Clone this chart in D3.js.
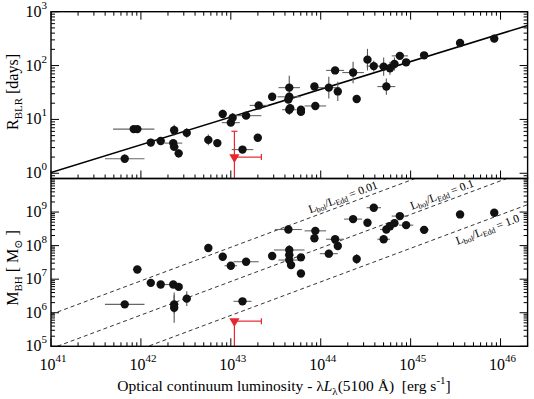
<!DOCTYPE html>
<html>
<head>
<meta charset="utf-8">
<script src="https://cdn.jsdelivr.net/npm/d3@7"></script>
<style>
  body { margin: 0; background: #fff; }
  svg { display: block; }
  text { font-family: "Liberation Serif", "DejaVu Serif", serif; }
</style>
</head>
<body>
<svg id="chart"></svg>
<script>
// log10 of luminosity / radius, with symmetric errors in dex
const rblrLogL = [41.82, 41.92, 41.96, 42.11, 42.22, 42.36, 42.37, 42.37, 42.42, 42.51, 42.75, 42.85, 42.91, 43.00, 43.02,
    43.13, 43.17, 43.30, 43.31, 43.46, 43.65, 43.65, 43.64, 43.66, 43.65, 43.78, 43.78, 43.93, 43.94, 44.09,
    44.19, 44.16, 44.36, 44.40, 44.52, 44.59, 44.70, 44.73, 44.77, 44.82, 44.88, 44.95, 45.15, 45.55, 45.93];
const rblrLogR = [0.27, 0.82, 0.82, 0.57, 0.60, 0.56, 0.80, 0.49, 0.37, 0.75, 0.62, 0.56, 1.10, 0.94, 1.03,
    0.44, 1.07, 0.66, 1.26, 1.42, 1.59, 1.42, 1.37, 1.21, 1.18, 1.18, 1.14, 1.61, 1.25, 1.59,
    1.52, 1.91, 1.87, 1.38, 2.11, 1.99, 1.98, 1.61, 1.95, 2.03, 2.18, 2.06, 2.19, 2.42, 2.50];
const rblrLumErr = [0.22, 0.23, 0.05, 0.03, 0.05, 0.10, 0.03, 0.05, 0.03, 0.03, 0.03, 0.03, 0.04, 0.10, 0.03,
    0.12, 0.17, 0.04, 0.10, 0.04, 0.12, 0.13, 0.05, 0.05, 0.08, 0.04, 0.04, 0.04, 0.12, 0.12,
    0.04, 0.10, 0.12, 0.03, 0.03, 0.08, 0.05, 0.10, 0.06, 0.05, 0.09, 0.04, 0.03, 0.03, 0.03];
const rblrRErr = [0.08, 0.03, 0.03, 0.07, 0.04, 0.05, 0.10, 0.05, 0.08, 0.09, 0.10, 0.07, 0.08, 0.04, 0.09,
    0.05, 0.03, 0.05, 0.04, 0.04, 0.22, 0.05, 0.05, 0.05, 0.10, 0.06, 0.05, 0.04, 0.04, 0.20,
    0.18, 0.03, 0.20, 0.06, 0.20, 0.10, 0.17, 0.15, 0.12, 0.12, 0.03, 0.06, 0.03, 0.04, 0.07];

const mbhLogL = [41.82, 41.96, 42.11, 42.22, 42.36, 42.42, 42.37, 42.37, 42.51, 42.75, 42.91, 43.00, 43.17, 43.13, 43.46,
    43.64, 43.65, 43.65, 43.65, 43.67, 43.78, 43.78, 43.94, 43.93, 44.09, 44.16, 44.19, 44.36, 44.40, 44.52,
    44.59, 44.70, 44.73, 44.77, 44.82, 44.88, 44.95, 45.15, 45.55, 45.93];
const mbhLogM = [6.25, 7.29, 6.89, 6.84, 6.84, 6.77, 6.25, 6.15, 6.42, 7.93, 7.67, 7.40, 7.52, 6.34, 7.69,
    8.48, 7.87, 7.72, 7.57, 7.42, 7.65, 7.17, 8.44, 8.22, 7.76, 8.19, 7.99, 8.79, 7.60, 8.68,
    9.13, 8.19, 8.48, 8.58, 8.67, 8.88, 8.61, 8.47, 8.93, 8.98];
const mbhLumErr = [0.22, 0.05, 0.03, 0.03, 0.10, 0.03, 0.03, 0.03, 0.03, 0.04, 0.04, 0.07, 0.14, 0.10, 0.04,
    0.15, 0.17, 0.05, 0.12, 0.04, 0.04, 0.03, 0.12, 0.03, 0.10, 0.10, 0.03, 0.10, 0.03, 0.03,
    0.08, 0.07, 0.07, 0.05, 0.04, 0.09, 0.08, 0.05, 0.03, 0.03];
const mbhMassErr = [0.07, 0.05, 0.05, 0.04, 0.04, 0.06, 0.27, 0.45, 0.22, 0.12, 0.12, 0.04, 0.04, 0.08, 0.04,
    0.04, 0.15, 0.05, 0.05, 0.12, 0.04, 0.04, 0.04, 0.04, 0.12, 0.04, 0.12, 0.04, 0.15, 0.07,
    0.04, 0.08, 0.04, 0.04, 0.04, 0.04, 0.03, 0.03, 0.03, 0.04];

// upper limit object (red)
const limitLogL = 43.04;
const limitLumHi = 43.34;
const limitLogR = 0.30;
const limitRHi = 0.78;
const limitLogM = 5.75;

// R-L fit: log R = fitIntercept + fitSlope * log L
const fitSlope = 0.515;
const fitIntercept = -21.10;

// Eddington ratio lines: log M = log L + offset
const eddRatios = ['0.01', '0.1', '1.0'];
const eddOffsets = [-35.05, -36.07, -37.08];
const eddLabelLogL = [43.90, 45.03, 45.47];

const xExps = [41, 42, 43, 44, 45, 46];
const rExps = [0, 1, 2, 3];
const mExps = [5, 6, 7, 8, 9];

const W = 534, H = 399;
const svg = d3.select('#chart').attr('width', W).attr('height', H)
    .attr('font-family', '"Liberation Serif", "DejaVu Serif", serif');

const x = d3.scaleLog().domain([1e41, 2e46]).range([51, 527.6]);
const yR = d3.scaleLog().domain([0.8, 1000]).range([178.5, 11.7]);
const yM = d3.scaleLog().domain([1e5, 1e10]).range([346.3, 178.5]);
const p10 = v => Math.pow(10, v);

const xLeft = x.range()[0], xRight = x.range()[1];
const red = '#e8262d';

function isDecade(v) {
    const e = Math.log10(v);
    return Math.abs(e - Math.round(e)) < 1e-6;
}

// inward ticks on the given sides of a panel
function drawTicks(yScale, sides) {
    const top = yScale.range()[1], bottom = yScale.range()[0];
    const xMajor = xExps.map(p10);
    const xMinor = x.ticks().filter(v => !isDecade(v));
    const yMajor = yScale.ticks().filter(isDecade);
    const yMinor = yScale.ticks().filter(v => !isDecade(v));
    const g = svg.append('g').attr('stroke', '#000').attr('stroke-width', 1);

    const tickSet = (vals, len, side) => {
        vals.forEach(v => {
            if (side === 'top' || side === 'bottom') {
                const px = x(v);
                const py = side === 'top' ? top : bottom;
                const dir = side === 'top' ? 1 : -1;
                g.append('line').attr('x1', px).attr('x2', px).attr('y1', py).attr('y2', py + dir * len);
            } else {
                const py = yScale(v);
                const px = side === 'left' ? xLeft : xRight;
                const dir = side === 'left' ? 1 : -1;
                g.append('line').attr('x1', px).attr('x2', px + dir * len).attr('y1', py).attr('y2', py);
            }
        });
    };
    sides.forEach(s => {
        if (s === 'top' || s === 'bottom') {
            tickSet(xMajor, 8, s);
            tickSet(xMinor, 4, s);
        } else {
            tickSet(yMajor, 8, s);
            tickSet(yMinor, 4, s);
        }
    });

    svg.append('rect')
        .attr('x', xLeft).attr('y', top)
        .attr('width', xRight - xLeft).attr('height', bottom - top)
        .attr('fill', 'none').attr('stroke', '#000').attr('stroke-width', 1.4);
}

function powLabel(sel, exp) {
    sel.append('tspan').text('10');
    sel.append('tspan').attr('font-size', 11).attr('dy', -8).text(exp);
}

function drawYLabels(yScale, exps) {
    exps.forEach(e => {
        svg.append('text')
            .attr('x', 47).attr('y', yScale(p10(e)) + 5)
            .attr('text-anchor', 'end').attr('font-size', 16)
            .call(powLabel, e);
    });
}

function drawPoints(yScale, lum, val, lumErr, valErr) {
    const pts = lum.map((l, i) => ({ l, v: val[i], le: lumErr[i], ve: valErr[i] }));
    const g = svg.append('g');
    g.selectAll('.xerr').data(pts).enter().append('line')
        .attr('class', 'xerr')
        .attr('x1', d => x(p10(d.l - d.le))).attr('x2', d => x(p10(d.l + d.le)))
        .attr('y1', d => yScale(p10(d.v))).attr('y2', d => yScale(p10(d.v)))
        .attr('stroke', '#666').attr('stroke-width', 1.1);
    g.selectAll('.yerr').data(pts).enter().append('line')
        .attr('class', 'yerr')
        .attr('x1', d => x(p10(d.l))).attr('x2', d => x(p10(d.l)))
        .attr('y1', d => yScale(p10(d.v - d.ve))).attr('y2', d => yScale(p10(d.v + d.ve)))
        .attr('stroke', '#555').attr('stroke-width', 1.1);
    g.selectAll('circle').data(pts).enter().append('circle')
        .attr('cx', d => x(p10(d.l))).attr('cy', d => yScale(p10(d.v)))
        .attr('r', 4.2).attr('fill', '#111');
}

function drawLimit(yScale, logV, logVHi) {
    const g = svg.append('g').attr('stroke', red).attr('stroke-width', 1.2);
    const px = x(p10(limitLogL)), py = yScale(p10(logV));
    const pxHi = x(p10(limitLumHi));
    g.append('line').attr('x1', px).attr('x2', pxHi).attr('y1', py).attr('y2', py);
    g.append('line').attr('x1', pxHi).attr('x2', pxHi).attr('y1', py - 3).attr('y2', py + 3);
    const yTop = logVHi != null ? yScale(p10(logVHi)) : py;
    g.append('line').attr('x1', px).attr('x2', px).attr('y1', yTop).attr('y2', yScale.range()[0]);
    if (logVHi != null) {
        g.append('line').attr('x1', px - 3).attr('x2', px + 3).attr('y1', yTop).attr('y2', yTop);
    }
    svg.append('path')
        .attr('d', d3.symbol(d3.symbolTriangle, 45)())
        .attr('transform', `translate(${px},${py}) rotate(180)`)
        .attr('fill', red);
}

// clip paths
const defs = svg.append('defs');
defs.append('clipPath').attr('id', 'clipTop').append('rect')
    .attr('x', xLeft).attr('y', yR.range()[1]).attr('width', xRight - xLeft).attr('height', yR.range()[0] - yR.range()[1]);
defs.append('clipPath').attr('id', 'clipBot').append('rect')
    .attr('x', xLeft).attr('y', yM.range()[1]).attr('width', xRight - xLeft).attr('height', yM.range()[0] - yM.range()[1]);

// ---- top panel: R_BLR ----
const fitLine = d3.line()
    .x(d => x(p10(d)))
    .y(d => yR(p10(fitIntercept + fitSlope * d)));
svg.append('path')
    .datum([41, 46.301])
    .attr('d', fitLine)
    .attr('clip-path', 'url(#clipTop)')
    .attr('fill', 'none').attr('stroke', '#000').attr('stroke-width', 1.6);

drawPoints(yR, rblrLogL, rblrLogR, rblrLumErr, rblrRErr);
drawLimit(yR, limitLogR, limitRHi);
drawTicks(yR, ['top', 'bottom', 'left', 'right']);
drawYLabels(yR, rExps);

// ---- bottom panel: M_BH ----
const eddG = svg.append('g').attr('clip-path', 'url(#clipBot)');
eddOffsets.forEach(off => {
    eddG.append('path')
        .datum([41, 46.301])
        .attr('d', d3.line().x(d => x(p10(d))).y(d => yM(p10(d + off))))
        .attr('fill', 'none').attr('stroke', '#000').attr('stroke-width', 0.8)
        .attr('stroke-dasharray', '4,3');
});

const angle = Math.atan2(yM(p10(8)) - yM(p10(7)), x(p10(44)) - x(p10(43))) * 180 / Math.PI;
eddRatios.forEach((r, i) => {
    const l = eddLabelLogL[i];
    const px = x(p10(l)), py = yM(p10(l + eddOffsets[i]));
    const t = svg.append('text')
        .attr('transform', `translate(${px},${py}) rotate(${angle})`)
        .attr('y', i === 2 ? 13 : -4)
        .attr('font-size', 11.5);
    t.append('tspan').text('L');
    t.append('tspan').attr('font-size', 8).attr('dy', 2).text('bol');
    t.append('tspan').attr('dy', -2).text('/L');
    t.append('tspan').attr('font-size', 8).attr('dy', 2).text('Edd');
    t.append('tspan').attr('dy', -2).text(' = ' + r);
});

drawPoints(yM, mbhLogL, mbhLogM, mbhLumErr, mbhMassErr);
drawLimit(yM, limitLogM, null);
drawTicks(yM, ['bottom', 'left', 'right']);
drawYLabels(yM, mExps);

// x tick labels
xExps.forEach(e => {
    svg.append('text')
        .attr('x', x(p10(e)) + 2).attr('y', 370)
        .attr('text-anchor', 'middle').attr('font-size', 16)
        .call(powLabel, e);
});

// axis titles
const xt = svg.append('text')
    .attr('x', 284).attr('y', 391)
    .attr('text-anchor', 'middle').attr('font-size', 15.5)
    .attr('xml:space', 'preserve');
xt.append('tspan').text('Optical continuum luminosity - λ');
xt.append('tspan').attr('font-style', 'italic').text('L');
xt.append('tspan').attr('font-size', 11).attr('dy', 4).text('λ');
xt.append('tspan').attr('dy', -4).text('(5100 Å)  [erg s');
xt.append('tspan').attr('font-size', 11).attr('dy', -7).text('-1');
xt.append('tspan').attr('dy', 7).text(']');

const rt = svg.append('text')
    .attr('transform', 'translate(18,92) rotate(-90)')
    .attr('text-anchor', 'middle').attr('font-size', 16);
rt.append('tspan').text('R');
rt.append('tspan').attr('font-size', 11).attr('dy', 4).text('BLR');
rt.append('tspan').attr('dy', -4).text(' [days]');

const mt = svg.append('text')
    .attr('transform', 'translate(18,268) rotate(-90)')
    .attr('text-anchor', 'middle').attr('font-size', 16);
mt.append('tspan').text('M');
mt.append('tspan').attr('font-size', 11).attr('dy', 4).text('BH');
mt.append('tspan').attr('dy', -4).text(' [ M');
mt.append('tspan').attr('font-size', 11).attr('dy', 4).text('⊙');
mt.append('tspan').attr('dy', -4).text(' ]');
</script>
</body>
</html>
